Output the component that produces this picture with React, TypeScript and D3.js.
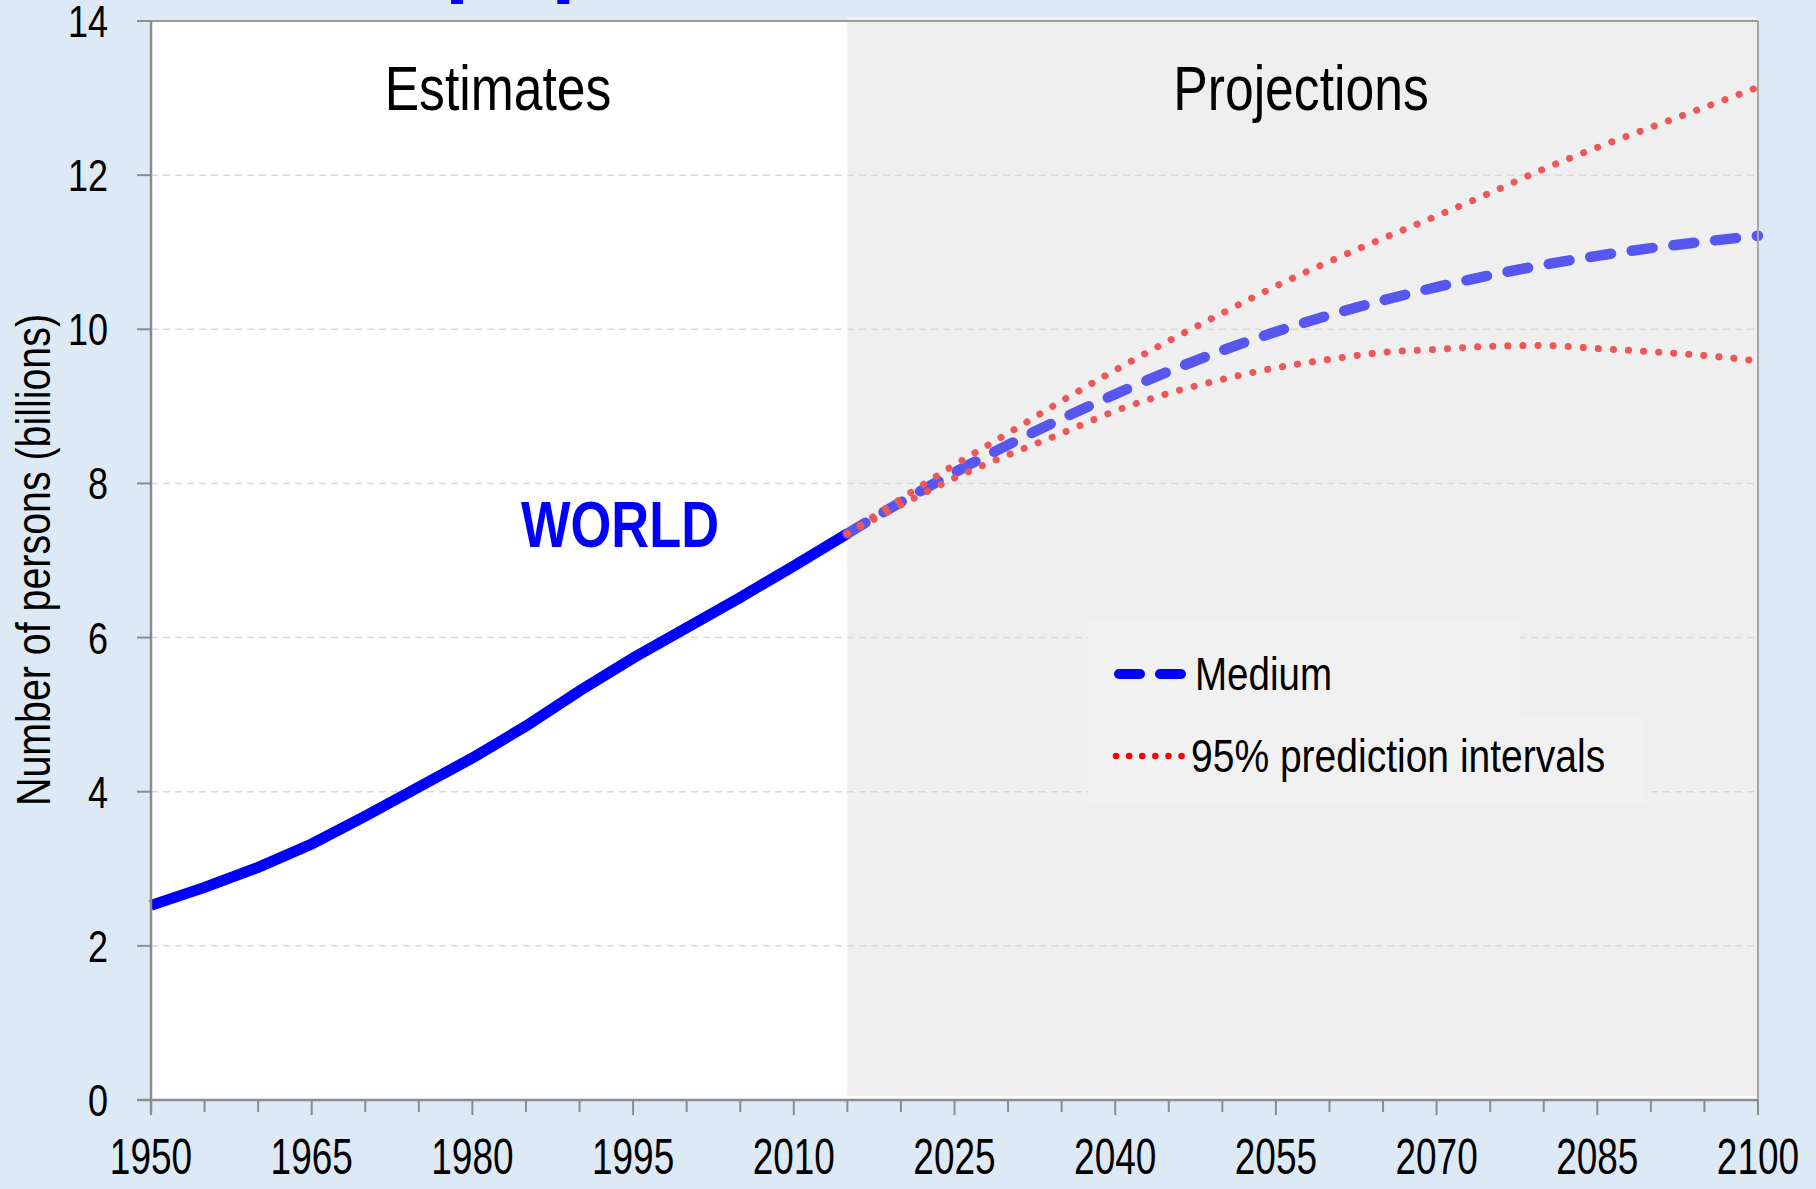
import * as d3 from 'd3';

// world population in billions
const estimateYears = [1950, 1955, 1960, 1965, 1970, 1975, 1980, 1985, 1990, 1995, 2000, 2005, 2010, 2015];
const worldEstimates = [2.525, 2.758, 3.018, 3.322, 3.682, 4.061, 4.439, 4.852, 5.309, 5.735, 6.127, 6.52, 6.93, 7.349];

const projectionYears = [2015, 2020, 2025, 2030, 2035, 2040, 2045, 2050, 2055, 2060, 2065, 2070, 2075, 2080, 2085, 2090, 2095, 2100];
const medium = [7.349, 7.758, 8.142, 8.501, 8.839, 9.157, 9.454, 9.725, 9.968, 10.184, 10.375, 10.547, 10.701, 10.836, 10.953, 11.053, 11.138, 11.213];
const upper95 = [7.349, 7.8, 8.24, 8.65, 9.07, 9.47, 9.85, 10.21, 10.56, 10.88, 11.18, 11.47, 11.77, 12.08, 12.36, 12.62, 12.88, 13.14];
const lower95 = [7.349, 7.72, 8.07, 8.37, 8.65, 8.94, 9.17, 9.35, 9.5, 9.61, 9.7, 9.74, 9.78, 9.79, 9.75, 9.71, 9.66, 9.59];

const xTickLabels = [1950, 1965, 1980, 1995, 2010, 2025, 2040, 2055, 2070, 2085, 2100];
const yTickLabels = [0, 2, 4, 6, 8, 10, 12, 14];

const FONT = '"Liberation Sans", Arial, sans-serif';

export default function App() {
  const W = 1816;
  const H = 1189;
  const left = 151, right = 1758, top = 21, bottom = 1100;

  const x = d3.scaleLinear().domain([1950, 2100]).range([left, right]);
  const y = d3.scaleLinear().domain([0, 14]).range([bottom, top]);

  const estLine = d3.line<number>()
    .x((_, i) => x(estimateYears[i]))
    .y((d) => y(d));

  const projLine = d3.line<number>()
    .x((_, i) => x(projectionYears[i]))
    .y((d) => y(d))
    .curve(d3.curveMonotoneX);

  const minorTicks = d3.range(1950, 2101, 5);
  const gridValues = yTickLabels.filter((v) => v > 0 && v < 14);
  const split = x(2015);

  return (
    <svg width={W} height={H} style={{ position: 'absolute', left: 0, top: 0 }} fontFamily={FONT}>
      <rect x={0} y={0} width={W} height={H} fill="#dde9f5" />

      {/* title, mostly cut off at the top */}
      <text x={176} y={-14} fontSize={87} fontWeight="bold" fill="#0000ff">World population, 1950-2100</text>

      {/* plot area */}
      <rect x={left} y={top} width={right - left} height={bottom - top} fill="#ffffff" />
      <rect x={split} y={17} width={right - 1 - split} height={1096 - 17} fill="#efefef" />

      {gridValues.map((v) => (
        <line key={v} x1={left} x2={right} y1={y(v)} y2={y(v)} stroke="#d9d9d9" strokeWidth={1.5} strokeDasharray="7 5" />
      ))}

      {/* legend boxes */}
      <rect x={1088} y={620} width={1520 - 1088} height={718 - 620} fill="#f1f1f1" />
      <rect x={1088} y={718} width={1646 - 1088} height={805 - 718} fill="#f1f1f1" />

      <text transform={`translate(498,110) scale(0.82,1)`} textAnchor="middle" fontSize={63} fill="#000">Estimates</text>
      <text transform={`translate(1301,110) scale(0.82,1)`} textAnchor="middle" fontSize={63} fill="#000">Projections</text>
      <text transform={`translate(620,547) scale(0.82,1)`} textAnchor="middle" fontSize={64} fontWeight="bold" fill="#0000ff">WORLD</text>

      {/* series */}
      <path d={estLine(worldEstimates) || ''} fill="none" stroke="#0000ff" strokeWidth={11} />
      <path d={projLine(medium) || ''} fill="none" stroke="#5757f0" strokeWidth={10.5} strokeDasharray="21 21" strokeLinecap="round" />
      <path d={projLine(upper95) || ''} fill="none" stroke="#ef5656" strokeWidth={7} strokeDasharray="0.1 15" strokeLinecap="round" />
      <path d={projLine(lower95) || ''} fill="none" stroke="#ef5656" strokeWidth={7} strokeDasharray="0.1 15" strokeLinecap="round" />

      {/* legend */}
      <line x1={1119} x2={1181} y1={674} y2={674} stroke="#0000ff" strokeWidth={10} strokeDasharray="21 20" strokeLinecap="round" />
      <text transform={`translate(1195,690) scale(0.82,1)`} fontSize={47} fill="#000">Medium</text>
      <line x1={1116} x2={1182} y1={756} y2={756} stroke="#ff0000" strokeWidth={6.5} strokeDasharray="0.1 13" strokeLinecap="round" />
      <text transform={`translate(1191,772) scale(0.83,1)`} fontSize={47} fill="#000">95% prediction intervals</text>

      {/* frame */}
      <line x1={137} x2={right} y1={top} y2={top} stroke="#9a9a9a" strokeWidth={2} />
      <line x1={right} x2={right} y1={top} y2={bottom} stroke="#a6a6a6" strokeWidth={2} />

      {/* y axis */}
      <line x1={left} x2={left} y1={top} y2={bottom + 13} stroke="#8c8c8c" strokeWidth={2.5} />
      {yTickLabels.map((v) => (
        <g key={v}>
          <line x1={137} x2={left} y1={y(v)} y2={y(v)} stroke="#8c8c8c" strokeWidth={2} />
          <text transform={`translate(108,${y(v) + 16}) scale(0.8,1)`} textAnchor="end" fontSize={45} fill="#000">{v}</text>
        </g>
      ))}
      <text transform={`translate(50,560) rotate(-90) scale(0.82,1)`} textAnchor="middle" fontSize={48} fill="#000">Number of persons (billions)</text>

      {/* x axis */}
      <line x1={137} x2={right} y1={bottom} y2={bottom} stroke="#8c8c8c" strokeWidth={2.5} />
      {minorTicks.map((t) => (
        <line key={t} x1={x(t)} x2={x(t)} y1={bottom} y2={bottom + ((t - 1950) % 15 === 0 ? 15 : 12)} stroke="#8c8c8c" strokeWidth={2} />
      ))}
      {xTickLabels.map((t) => (
        <text key={t} transform={`translate(${x(t)},1174) scale(0.74,1)`} textAnchor="middle" fontSize={50} fill="#000">{t}</text>
      ))}
    </svg>
  );
}
